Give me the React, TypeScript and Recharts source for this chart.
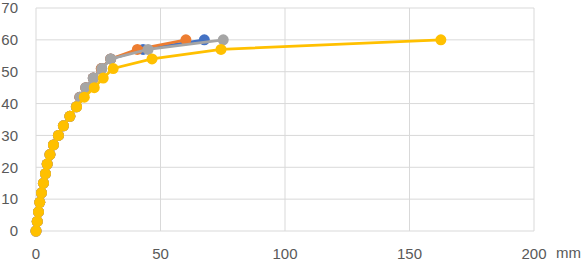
import { ScatterChart, Scatter, XAxis, YAxis, CartesianGrid } from 'recharts'

// load levels (y) shared by every series
const loads = [0, 3, 6, 9, 12, 15, 18, 21, 24, 27, 30, 33, 36, 39, 42, 45, 48, 51, 54, 57, 60]

// settlement in mm (x) per series
const blueX = [0, 0.5, 1, 1.5, 2.2, 3, 3.8, 4.5, 5.6, 7, 9, 11, 13.6, 16.2, 17.6, 20, 23, 26.3, 30, 43, 67.6]
const orangeX = [0, 0.5, 1, 1.5, 2.2, 3, 3.8, 4.5, 5.6, 7, 9, 11, 13.6, 16.2, 17.6, 20, 23, 26.2, 30, 40.7, 60.2]
const grayX = [0, 0.5, 1, 1.5, 2.2, 3, 3.8, 4.5, 5.6, 7, 9, 11, 13.6, 16.2, 17.7, 20, 23, 26.4, 30, 45, 75.2]
const yellowX = [0, 0.5, 1, 1.5, 2.2, 3, 3.8, 4.5, 5.6, 7, 9, 11, 13.6, 16.3, 19.4, 23.4, 27, 31, 46.6, 74.3, 162.6]

const xTicks = [0, 50, 100, 150, 200]
const yTicks = [0, 10, 20, 30, 40, 50, 60, 70]

const series = [
  { name: 'blue', xs: blueX, color: '#4472C4' },
  { name: 'orange', xs: orangeX, color: '#ED7D31' },
  { name: 'gray', xs: grayX, color: '#A5A5A5' },
  { name: 'yellow', xs: yellowX, color: '#FFC000' },
]

const tickStyle = { fontSize: 15, fill: '#595959', fontFamily: 'Liberation Sans, Arial, sans-serif' }

const Dot = (color: string) => (props: any) => (
  <circle cx={props.cx} cy={props.cy} r={5.5} fill={color} />
)

export default function App() {
  return (
    <div style={{ position: 'absolute', left: 0, top: 0, width: 587, height: 262, background: '#fff' }}>
      <ScatterChart width={587} height={262} margin={{ top: 8, right: 53, bottom: 0, left: 0 }}>
        <CartesianGrid stroke="#d9d9d9" strokeWidth={1} />
        <XAxis
          type="number"
          dataKey="x"
          domain={[0, 200]}
          ticks={xTicks}
          height={31}
          axisLine={false}
          tickLine={false}
          tickSize={0}
          tickMargin={17}
          tick={tickStyle}
          interval={0}
        />
        <YAxis
          type="number"
          dataKey="y"
          domain={[0, 70]}
          ticks={yTicks}
          width={36}
          axisLine={false}
          tickLine={false}
          tickSize={0}
          tickMargin={18}
          tick={tickStyle}
          interval={0}
        />
        {series.map((s) => (
          <Scatter
            key={s.name}
            data={loads.map((y, i) => ({ x: s.xs[i], y }))}
            fill={s.color}
            line={{ strokeWidth: 2.75 }}
            lineType="joint"
            shape={Dot(s.color)}
            isAnimationActive={false}
          />
        ))}
      </ScatterChart>
      <div
        style={{
          position: 'absolute',
          left: 556,
          top: 244,
          fontSize: 15,
          color: '#595959',
          fontFamily: 'Liberation Sans, Arial, sans-serif',
        }}
      >
        mm
      </div>
    </div>
  )
}
